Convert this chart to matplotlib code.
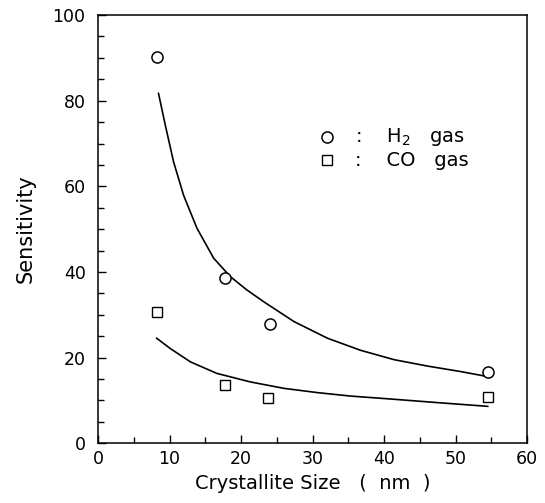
import matplotlib
matplotlib.use("Agg")
import matplotlib.pyplot as plt
from matplotlib.ticker import MultipleLocator

# ---------------------------------------------------------------------
# Data
# ---------------------------------------------------------------------
h2_size = [8.3, 17.7, 24.0, 54.6]
h2_sens = [90.2, 38.6, 27.8, 16.7]

co_size = [8.3, 17.7, 23.8, 54.6]
co_sens = [30.6, 13.6, 10.6, 10.8]

# fitted curves
h2_fit_x = [8.45, 9.4, 10.56, 11.96, 13.83, 16.17, 18.5, 20.8, 23.2, 27.4,
            32.1, 36.7, 41.4, 46.1, 50.8, 54.0]
h2_fit_y = [81.7, 74.3, 65.7, 57.9, 50.2, 43.2, 38.9, 35.8, 33.0, 28.4,
            24.5, 21.7, 19.5, 18.0, 16.7, 15.7]

co_fit_x = [8.2, 10.1, 12.9, 16.6, 21.3, 26.0, 30.7, 35.3, 41.0, 48.0, 54.5]
co_fit_y = [24.5, 22.1, 19.0, 16.3, 14.3, 12.8, 11.8, 11.0, 10.3, 9.4, 8.6]

# ---------------------------------------------------------------------
# Figure
# ---------------------------------------------------------------------
fig = plt.figure(figsize=(5.45, 5.03), dpi=100)
ax = fig.add_axes([0.18, 0.119, 0.787, 0.851])

ax.plot(h2_fit_x, h2_fit_y, color="black", lw=1.2)
ax.plot(co_fit_x, co_fit_y, color="black", lw=1.2)

ax.plot(h2_size, h2_sens, "o", ms=8, mfc="white", mec="black", mew=1.1,
        linestyle="none")
ax.plot(co_size, co_sens, "s", ms=7, mfc="white", mec="black", mew=1.0,
        linestyle="none")

ax.set_xlim(0, 60)
ax.set_ylim(0, 100)
ax.xaxis.set_major_locator(MultipleLocator(10))
ax.xaxis.set_minor_locator(MultipleLocator(5))
ax.yaxis.set_major_locator(MultipleLocator(20))
ax.yaxis.set_minor_locator(MultipleLocator(5))
ax.tick_params(which="both", direction="in", top=False, right=False,
               labelsize=12.5, width=1.0)
ax.tick_params(which="major", length=6)
ax.tick_params(axis="y", which="major", pad=9)
ax.tick_params(axis="x", which="major", pad=5)
ax.tick_params(which="minor", length=4)
for sp in ax.spines.values():
    sp.set_linewidth(1.1)

ax.set_xlabel("Crystallite Size   (  nm  )", fontsize=14, labelpad=4)
ax.set_ylabel("Sensitivity", fontsize=15, labelpad=12)

# Legend drawn as marker + text
ax.plot([0.533], [0.715], "o", ms=8, mfc="white", mec="black", mew=1.1,
        transform=ax.transAxes, clip_on=False)
ax.plot([0.533], [0.661], "s", ms=7, mfc="white", mec="black", mew=1.0,
        transform=ax.transAxes, clip_on=False)
ax.text(0.6, 0.715, ":    H$_2$   gas", transform=ax.transAxes,
        fontsize=14, va="center", ha="left")
ax.text(0.6, 0.661, ":    CO   gas", transform=ax.transAxes,
        fontsize=14, va="center", ha="left")

fig.savefig("out.png", dpi=100)
